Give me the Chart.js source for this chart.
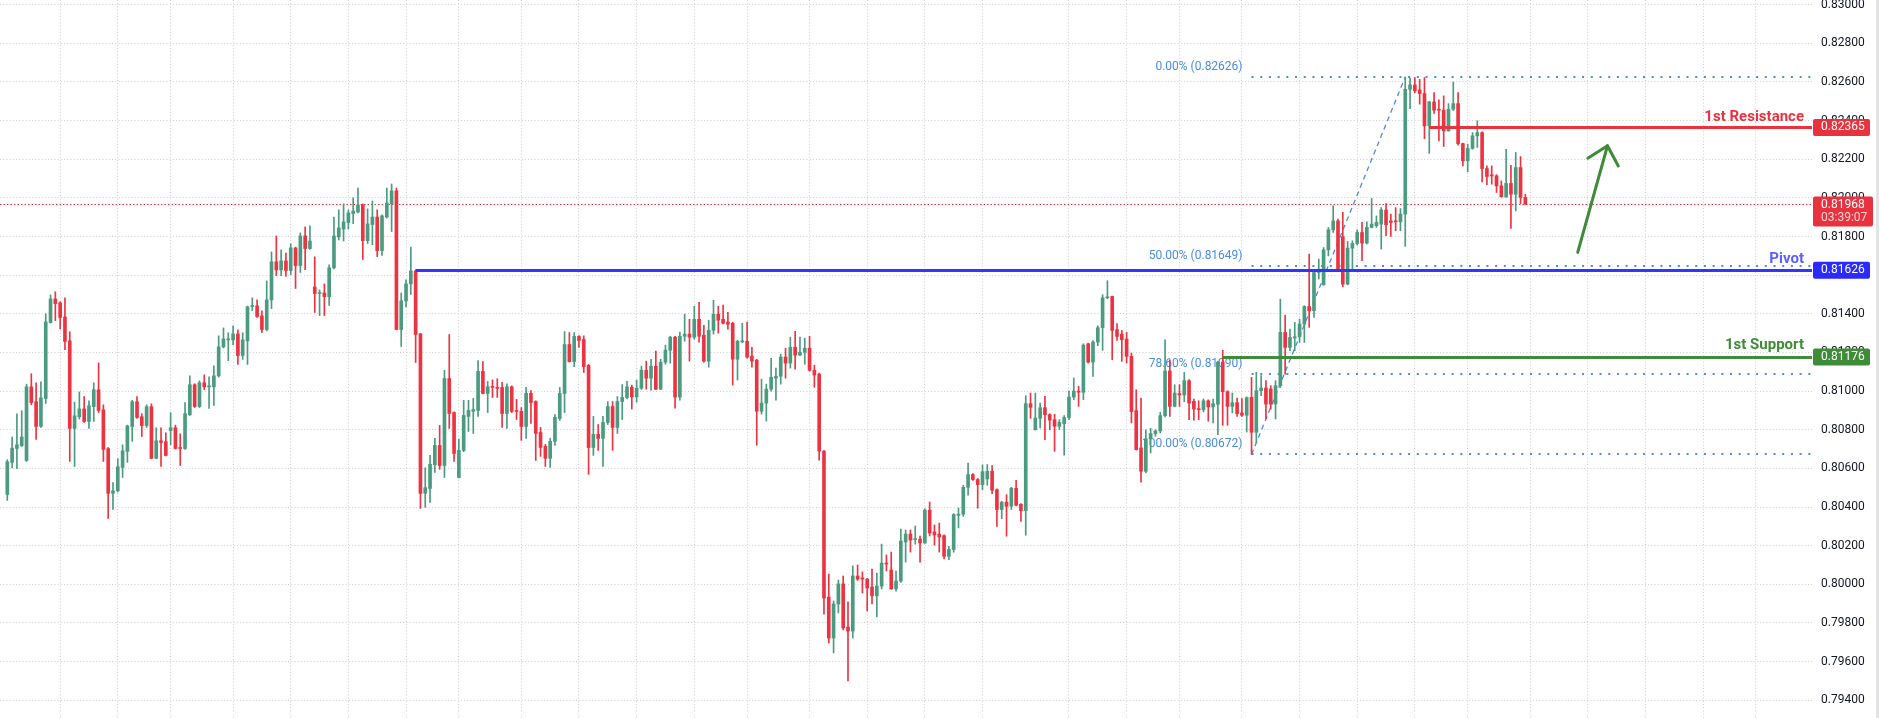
<!DOCTYPE html>
<html lang="en">
  <head>
    <meta charset="utf-8" />
    <title>Price chart - pivot levels</title>
    <style>
      * {
        margin: 0;
        padding: 0;
      }
      body {
        background: #ffffff;
      }
      .chartBox {
        width: 1880px;
        height: 718px;
        position: relative;
      }
    </style>
  </head>
  <body>
    <div class="chartBox">
      <canvas id="myChart"></canvas>
    </div>
    <script src="https://cdn.jsdelivr.net/npm/chart.js"></script>
    <script>
      // candles, oldest first
      const open = [
        0.80465,0.80631,0.80703,0.80717,0.80641,0.81022,0.80945,0.80817,0.80962,0.81355,
        0.81477,0.81457,0.81384,0.81260,0.80807,0.80867,0.80908,0.80843,0.80920,0.81007,
        0.80903,0.80702,0.80471,0.80484,0.80605,0.80688,0.80817,0.80945,0.80867,0.80822,
        0.80919,0.80652,0.80743,0.80738,0.80796,0.80810,0.80707,0.80703,0.80877,0.81033,
        0.80920,0.81043,0.81022,0.81022,0.81079,0.81229,0.81265,0.81265,0.81296,0.81184,
        0.81260,0.81438,0.81441,0.81389,0.81319,0.81472,0.81669,0.81627,0.81674,0.81624,
        0.81741,0.81650,0.81803,0.81738,0.81539,0.81505,0.81508,0.81489,0.81638,0.81798,
        0.81839,0.81872,0.81919,0.81927,0.81963,0.81779,0.81862,0.81901,0.81727,0.81901,
        0.81970,0.82036,0.81319,0.81467,0.81555,0.81622,0.81296,0.80471,0.80496,0.80619,
        0.80719,0.80615,0.81065,0.80889,0.80553,0.80693,0.80869,0.80895,0.80900,0.81102,
        0.80988,0.81022,0.81017,0.81019,0.80884,0.81022,0.80900,0.80895,0.80817,0.80988,
        0.80946,0.80786,0.80714,0.80652,0.80740,0.80858,0.80988,0.81241,0.81153,0.81283,
        0.81267,0.81133,0.80708,0.80776,0.80755,0.80838,0.80920,0.80812,0.80946,0.80967,
        0.81020,0.80970,0.81015,0.81108,0.81067,0.81129,0.81010,0.81150,0.81212,0.81279,
        0.80969,0.81284,0.81295,0.81279,0.81372,0.81289,0.81155,0.81315,0.81398,0.81372,
        0.81357,0.81351,0.81165,0.81255,0.81258,0.81181,0.81160,0.80896,0.80938,0.81010,
        0.81067,0.81077,0.81176,0.81145,0.81227,0.81186,0.81201,0.81222,0.81108,0.81088,
        0.80689,0.79934,0.79722,0.79898,0.80002,0.79779,0.79758,0.80043,0.80033,0.80027,
        0.79986,0.79940,0.79991,0.80110,0.80074,0.79976,0.80017,0.80219,0.80260,0.80231,
        0.80234,0.80214,0.80384,0.80271,0.80260,0.80252,0.80145,0.80180,0.80357,0.80363,
        0.80502,0.80568,0.80542,0.80516,0.80545,0.80585,0.80490,0.80387,0.80425,0.80404,
        0.80497,0.80414,0.80381,0.80935,0.80800,0.80859,0.80914,0.80878,0.80852,0.80818,
        0.80832,0.80863,0.80969,0.81000,0.80994,0.81245,0.81150,0.81254,0.81328,0.81483,
        0.81490,0.81318,0.81295,0.81269,0.81180,0.80899,0.80706,0.80585,0.80752,0.80780,
        0.80794,0.80873,0.81104,0.80921,0.80987,0.80980,0.81054,0.80947,0.80909,0.80904,
        0.80950,0.80918,0.80932,0.81150,0.80997,0.80921,0.80940,0.80887,0.80875,0.80968,
        0.80787,0.81002,0.81016,0.81011,0.80933,0.81028,0.81304,0.81226,0.81275,0.81281,
        0.81347,0.81438,0.81416,0.81614,0.81550,0.81731,0.81835,0.81881,0.81799,0.81554,
        0.81740,0.81764,0.81821,0.81766,0.81847,0.81856,0.81864,0.81937,0.81881,0.81880,
        0.81876,0.81916,0.82562,0.82585,0.82559,0.82540,0.82373,0.82497,0.82459,0.82454,
        0.82347,0.82459,0.82488,0.82281,0.82192,0.82256,0.82321,0.82338,0.82152,0.82118,
        0.82114,0.82062,0.82006,0.82075,0.82019,0.82157,0.82002,
      ];
      const high = [
        0.80645,0.80762,0.80883,0.80898,0.81036,0.81090,0.81043,0.81048,0.81400,0.81498,
        0.81514,0.81462,0.81483,0.81307,0.80943,0.80996,0.80971,0.80950,0.81043,0.81146,
        0.80929,0.80708,0.80526,0.80650,0.80722,0.80824,0.80952,0.80971,0.80883,0.80929,
        0.80934,0.80810,0.80810,0.80784,0.80888,0.80824,0.80779,0.80940,0.81079,0.81038,
        0.81053,0.81084,0.81074,0.81131,0.81286,0.81327,0.81302,0.81338,0.81317,0.81302,
        0.81440,0.81483,0.81472,0.81415,0.81570,0.81720,0.81803,0.81731,0.81715,0.81762,
        0.81745,0.81819,0.81850,0.81855,0.81695,0.81524,0.81555,0.81653,0.81901,0.81938,
        0.81969,0.81938,0.82000,0.82051,0.81969,0.81943,0.81984,0.81938,0.81912,0.82051,
        0.82072,0.82051,0.81508,0.81576,0.81746,0.81627,0.81298,0.80603,0.80667,0.80755,
        0.80822,0.81107,0.81293,0.80893,0.80750,0.80952,0.80952,0.80962,0.81158,0.81153,
        0.81050,0.81058,0.81064,0.81045,0.81038,0.81027,0.80957,0.80915,0.81019,0.81003,
        0.80950,0.80812,0.80724,0.80755,0.80879,0.81019,0.81308,0.81303,0.81303,0.81288,
        0.81286,0.81138,0.80869,0.80827,0.80869,0.80946,0.80946,0.80972,0.81034,0.81050,
        0.81031,0.81057,0.81129,0.81155,0.81165,0.81207,0.81165,0.81238,0.81284,0.81284,
        0.81305,0.81398,0.81372,0.81439,0.81460,0.81341,0.81367,0.81470,0.81439,0.81445,
        0.81408,0.81357,0.81264,0.81351,0.81357,0.81227,0.81165,0.81062,0.81036,0.81170,
        0.81119,0.81191,0.81222,0.81279,0.81310,0.81279,0.81274,0.81284,0.81134,0.81093,
        0.80694,0.80053,0.79914,0.80022,0.80043,0.79909,0.80095,0.80100,0.80064,0.80031,
        0.80079,0.80058,0.80208,0.80152,0.80167,0.80069,0.80286,0.80281,0.80281,0.80302,
        0.80250,0.80390,0.80426,0.80307,0.80317,0.80256,0.80197,0.80366,0.80395,0.80513,
        0.80628,0.80573,0.80548,0.80618,0.80620,0.80614,0.80494,0.80430,0.80464,0.80502,
        0.80538,0.80418,0.80976,0.80990,0.80990,0.80938,0.80973,0.80883,0.80880,0.80852,
        0.80873,0.81000,0.81068,0.81025,0.81245,0.81248,0.81262,0.81338,0.81499,0.81571,
        0.81492,0.81349,0.81314,0.81304,0.81197,0.81007,0.80964,0.80800,0.80807,0.80800,
        0.80890,0.81266,0.81162,0.81033,0.81033,0.81097,0.81059,0.80959,0.80950,0.80959,
        0.80955,0.80959,0.81155,0.81211,0.81002,0.80990,0.80964,0.80961,0.80970,0.81071,
        0.81097,0.81080,0.81054,0.81028,0.81054,0.81476,0.81394,0.81321,0.81356,0.81373,
        0.81442,0.81709,0.81618,0.81683,0.81743,0.81847,0.81959,0.81890,0.81925,0.81775,
        0.81778,0.81835,0.81873,0.81876,0.81997,0.81907,0.81950,0.81971,0.81916,0.81950,
        0.81945,0.82626,0.82620,0.82623,0.82614,0.82623,0.82500,0.82545,0.82507,0.82528,
        0.82488,0.82600,0.82545,0.82284,0.82278,0.82338,0.82399,0.82342,0.82166,0.82166,
        0.82120,0.82088,0.82252,0.82169,0.82235,0.82214,0.82019,
      ];
      const low = [
        0.80434,0.80602,0.80598,0.80714,0.80636,0.80929,0.80750,0.80812,0.80936,0.81352,
        0.81365,0.81322,0.81215,0.80636,0.80610,0.80855,0.80838,0.80807,0.80843,0.80889,
        0.80636,0.80341,0.80388,0.80478,0.80553,0.80631,0.80740,0.80858,0.80765,0.80812,
        0.80650,0.80650,0.80610,0.80665,0.80722,0.80700,0.80615,0.80698,0.80874,0.80915,
        0.80915,0.81007,0.80910,0.80926,0.81072,0.81224,0.81158,0.81240,0.81138,0.81164,
        0.81138,0.81417,0.81381,0.81303,0.81312,0.81427,0.81598,0.81598,0.81593,0.81603,
        0.81531,0.81614,0.81629,0.81733,0.81407,0.81391,0.81391,0.81443,0.81632,0.81782,
        0.81777,0.81839,0.81867,0.81922,0.81681,0.81764,0.81758,0.81696,0.81702,0.81896,
        0.81826,0.81317,0.81231,0.81436,0.81500,0.81148,0.80393,0.80398,0.80424,0.80579,
        0.80595,0.80553,0.80807,0.80636,0.80550,0.80686,0.80791,0.80781,0.80869,0.80986,
        0.80889,0.80967,0.80967,0.80812,0.80807,0.80889,0.80853,0.80745,0.80755,0.80833,
        0.80641,0.80662,0.80610,0.80605,0.80719,0.80848,0.80889,0.81150,0.81127,0.81226,
        0.81096,0.80569,0.80667,0.80693,0.80610,0.80827,0.80693,0.80781,0.80853,0.80960,
        0.80907,0.80943,0.81008,0.81010,0.81005,0.81008,0.81008,0.81139,0.81145,0.80912,
        0.80953,0.81258,0.81155,0.81269,0.81253,0.81150,0.81124,0.81295,0.81300,0.81348,
        0.81320,0.81031,0.81057,0.81250,0.81170,0.81124,0.80720,0.80881,0.80845,0.81000,
        0.80953,0.81036,0.81067,0.81119,0.81114,0.81183,0.81139,0.81103,0.81020,0.80643,
        0.79846,0.79696,0.79645,0.79852,0.79764,0.79500,0.79722,0.80020,0.79955,0.79862,
        0.79898,0.79831,0.79976,0.80069,0.79974,0.79965,0.80010,0.80115,0.80167,0.80208,
        0.80115,0.80212,0.80250,0.80203,0.80167,0.80132,0.80128,0.80166,0.80292,0.80352,
        0.80461,0.80538,0.80394,0.80490,0.80513,0.80469,0.80300,0.80340,0.80249,0.80387,
        0.80406,0.80326,0.80254,0.80859,0.80798,0.80809,0.80749,0.80800,0.80688,0.80800,
        0.80668,0.80852,0.80956,0.80921,0.80956,0.81145,0.81076,0.81235,0.81211,0.81478,
        0.81162,0.81262,0.81154,0.81145,0.80835,0.80695,0.80528,0.80576,0.80680,0.80766,
        0.80783,0.80866,0.80869,0.80918,0.80921,0.80945,0.80852,0.80849,0.80852,0.80892,
        0.80844,0.80835,0.80775,0.80823,0.80823,0.80887,0.80869,0.80869,0.80788,0.80672,
        0.80731,0.80976,0.80856,0.80907,0.80856,0.81019,0.81088,0.81209,0.81209,0.81252,
        0.81252,0.81330,0.81381,0.81580,0.81548,0.81700,0.81821,0.81628,0.81540,0.81550,
        0.81631,0.81756,0.81675,0.81761,0.81845,0.81847,0.81735,0.81804,0.81800,0.81830,
        0.81830,0.81749,0.82462,0.82545,0.82485,0.82307,0.82230,0.82437,0.82295,0.82266,
        0.82345,0.82452,0.82273,0.82166,0.82135,0.82252,0.82261,0.82083,0.82068,0.82071,
        0.82028,0.82004,0.82002,0.81842,0.81933,0.81971,0.81964,
      ];
      const close = [
        0.80634,0.80705,0.80722,0.80762,0.81022,0.80941,0.80817,0.80965,0.81358,0.81477,
        0.81453,0.81381,0.81257,0.80807,0.80872,0.80908,0.80843,0.80924,0.81007,0.80900,
        0.80698,0.80471,0.80484,0.80608,0.80691,0.80820,0.80945,0.80864,0.80822,0.80919,
        0.80652,0.80743,0.80734,0.80667,0.80810,0.80703,0.80703,0.80883,0.81033,0.80920,
        0.81043,0.81022,0.81027,0.81079,0.81229,0.81270,0.81270,0.81296,0.81184,0.81265,
        0.81436,0.81443,0.81386,0.81319,0.81472,0.81669,0.81627,0.81674,0.81624,0.81741,
        0.81650,0.81803,0.81738,0.81777,0.81505,0.81510,0.81489,0.81638,0.81803,0.81845,
        0.81876,0.81922,0.81932,0.81963,0.81779,0.81865,0.81901,0.81727,0.81907,0.81974,
        0.82036,0.81319,0.81467,0.81555,0.81622,0.81293,0.80471,0.80500,0.80621,0.80719,
        0.80615,0.81065,0.80884,0.80677,0.80693,0.80874,0.80900,0.80905,0.81102,0.80988,
        0.81022,0.81019,0.81014,0.80884,0.81022,0.80895,0.80895,0.80817,0.80988,0.80941,
        0.80781,0.80708,0.80652,0.80740,0.80864,0.80988,0.81241,0.81153,0.81283,0.81262,
        0.81127,0.80708,0.80776,0.80755,0.80838,0.80920,0.80812,0.80946,0.80967,0.81022,
        0.80970,0.81015,0.81108,0.81067,0.81129,0.81010,0.81150,0.81212,0.81279,0.80969,
        0.81284,0.81295,0.81279,0.81372,0.81284,0.81155,0.81315,0.81398,0.81367,0.81351,
        0.81346,0.81165,0.81258,0.81258,0.81176,0.81155,0.80896,0.80938,0.81010,0.81072,
        0.81077,0.81176,0.81145,0.81227,0.81186,0.81201,0.81222,0.81108,0.81083,0.80689,
        0.79929,0.79722,0.79898,0.80002,0.79774,0.79758,0.80043,0.80027,0.80027,0.79981,
        0.79940,0.79991,0.80110,0.80105,0.79976,0.80017,0.80224,0.80260,0.80229,0.80234,
        0.80214,0.80384,0.80265,0.80255,0.80245,0.80145,0.80180,0.80361,0.80363,0.80502,
        0.80568,0.80542,0.80516,0.80583,0.80585,0.80487,0.80387,0.80425,0.80404,0.80497,
        0.80409,0.80381,0.80935,0.80916,0.80861,0.80914,0.80878,0.80850,0.80818,0.80838,
        0.80863,0.80969,0.81000,0.80994,0.81238,0.81150,0.81254,0.81328,0.81483,0.81487,
        0.81314,0.81283,0.81266,0.81180,0.80894,0.80697,0.80585,0.80752,0.80780,0.80794,
        0.80873,0.81104,0.80921,0.80990,0.80980,0.81054,0.80938,0.80907,0.80904,0.80950,
        0.80918,0.80935,0.81150,0.80997,0.80921,0.80940,0.80883,0.80875,0.80966,0.80787,
        0.81002,0.81016,0.80933,0.80933,0.81028,0.81304,0.81226,0.81278,0.81281,0.81347,
        0.81438,0.81416,0.81614,0.81631,0.81731,0.81835,0.81881,0.81631,0.81554,0.81740,
        0.81764,0.81821,0.81766,0.81847,0.81864,0.81873,0.81938,0.81861,0.81873,0.81876,
        0.81916,0.82562,0.82585,0.82554,0.82540,0.82373,0.82497,0.82454,0.82454,0.82347,
        0.82459,0.82488,0.82281,0.82192,0.82256,0.82321,0.82338,0.82152,0.82111,0.82114,
        0.82062,0.82006,0.82075,0.82019,0.82157,0.82002,0.81968,
      ];

      // price axis ticks and the time grid (candle index of each vertical grid line)
      const yTicks = [0.794, 0.796, 0.798, 0.8, 0.802, 0.804, 0.806, 0.808, 0.81, 0.812, 0.814, 0.816, 0.818, 0.82, 0.822, 0.824, 0.826, 0.828, 0.83];
      const timeGrid = [11, 23, 34, 47, 59, 71, 83, 94, 107, 119, 131, 143, 154, 167, 179, 191, 203, 221, 233, 244, 257, 269, 281, 293, 304, 317, 329, 341, 353, 364];

      // levels
      const lastPrice = 0.81968;
      const lastTimer = '03:39:07';
      const levelNames = ['1st Resistance', 'Pivot', '1st Support'];
      const levelPrices = [0.82365, 0.81626, 0.81176];
      const levelStart = [296, 85, 253];

      // fibonacci retracement, from the low candle to the high candle
      const fibLow = { idx: 259, price: 0.80672 };
      const fibHigh = { idx: 291, price: 0.82626 };
      const fibNames = ['0.00%', '50.00%', '78.60%', '100.00%'];
      const fibPrices = [0.82626, 0.81649, 0.8109, 0.80672];

      // projected move arrow (candle index, price)
      const arrowFrom = [326.9, 0.81718];
      const arrowTo = [333.1, 0.8227];
      const arrowWings = [
        [329.0, 0.82205],
        [335.35, 0.82165],
      ];

      const UP = '#4a9b7f';
      const DOWN = '#ec3342';
      const colors = close.map((c, i) => (c >= open[i] ? UP : DOWN));
      const bodies = close.map((c, i) => ({ x: i, y: [open[i], c] }));
      const wicks = close.map((c, i) => ({ x: i, y: [low[i], high[i]] }));

      Chart.defaults.font.family = 'Roboto, "Noto Sans", sans-serif';

      const levelColors = {
        '1st Resistance': { line: '#e8333f', text: '#e8333f', tag: '#e8333f' },
        Pivot: { line: '#3434ff', text: '#5e5eff', tag: '#2b2bff' },
        '1st Support': { line: '#3e8b38', text: '#3e8b38', tag: '#3e8b38' },
      };
      const FIB = '#4a8de3';

      const overlay = {
        id: 'overlay',
        beforeDatasetsDraw(chart) {
          const {
            ctx,
            chartArea: { left, right, top, bottom },
            scales: { x, y },
          } = chart;
          ctx.save();
          ctx.beginPath();
          ctx.rect(left, top, right - left, bottom - top);
          ctx.clip();

          // last price dotted line
          const py = Math.round(y.getPixelForValue(lastPrice)) + 0.5;
          ctx.strokeStyle = '#e8333f';
          ctx.lineWidth = 1;
          ctx.setLineDash([1.5, 2]);
          ctx.beginPath();
          ctx.moveTo(left, py);
          ctx.lineTo(right, py);
          ctx.stroke();

          // fibonacci levels
          const fx = x.getPixelForValue(fibLow.idx);
          ctx.strokeStyle = FIB;
          ctx.lineWidth = 2;
          ctx.setLineDash([2, 6.7]);
          fibPrices.forEach((p) => {
            const yy = Math.round(y.getPixelForValue(p));
            ctx.beginPath();
            ctx.moveTo(fx, yy);
            ctx.lineTo(right, yy);
            ctx.stroke();
          });
          ctx.setLineDash([]);
          ctx.fillStyle = FIB;
          ctx.font = '12px Roboto';
          ctx.textAlign = 'right';
          ctx.textBaseline = 'alphabetic';
          fibNames.forEach((n, i) => {
            const yy = y.getPixelForValue(fibPrices[i]);
            ctx.fillText(n + ' (' + fibPrices[i].toFixed(5) + ')', fx - 9, yy - 7);
          });

          // trend line of the retracement
          ctx.strokeStyle = FIB;
          ctx.lineWidth = 1.3;
          ctx.setLineDash([5, 4]);
          ctx.beginPath();
          ctx.moveTo(x.getPixelForValue(fibLow.idx), y.getPixelForValue(fibLow.price));
          ctx.lineTo(x.getPixelForValue(fibHigh.idx), y.getPixelForValue(fibHigh.price));
          ctx.stroke();
          ctx.restore();
        },
        afterDatasetsDraw(chart) {
          const {
            ctx,
            chartArea: { left, right, top, bottom },
            scales: { x, y },
          } = chart;
          ctx.save();
          ctx.beginPath();
          ctx.rect(left, top, right - left, bottom - top);
          ctx.clip();

          // support / resistance lines
          const textOffset = [7, 8, 9];
          levelNames.forEach((n, i) => {
            const c = levelColors[n];
            const yy = Math.round(y.getPixelForValue(levelPrices[i])) + 0.5;
            ctx.strokeStyle = c.line;
            ctx.lineWidth = 3;
            ctx.beginPath();
            ctx.moveTo(x.getPixelForValue(levelStart[i]), yy);
            ctx.lineTo(right, yy);
            ctx.stroke();
            ctx.fillStyle = c.text;
            ctx.font = 'bold 15px Roboto';
            ctx.textAlign = 'right';
            ctx.textBaseline = 'alphabetic';
            ctx.fillText(n, right - 8, yy - textOffset[i]);
          });

          // arrow
          ctx.strokeStyle = '#3e8b38';
          ctx.lineWidth = 3;
          ctx.lineCap = 'round';
          ctx.lineJoin = 'round';
          const tipX = x.getPixelForValue(arrowTo[0]);
          const tipY = y.getPixelForValue(arrowTo[1]);
          ctx.beginPath();
          ctx.moveTo(x.getPixelForValue(arrowFrom[0]), y.getPixelForValue(arrowFrom[1]));
          ctx.lineTo(tipX, tipY);
          ctx.stroke();
          ctx.beginPath();
          ctx.moveTo(x.getPixelForValue(arrowWings[0][0]), y.getPixelForValue(arrowWings[0][1]));
          ctx.lineTo(tipX, tipY);
          ctx.lineTo(x.getPixelForValue(arrowWings[1][0]), y.getPixelForValue(arrowWings[1][1]));
          ctx.stroke();
          ctx.restore();
        },
        afterDraw(chart) {
          const {
            ctx,
            chartArea: { right },
            scales: { y },
          } = chart;

          function tag(price, color, lines) {
            const yy = y.getPixelForValue(price);
            const h = lines.length > 1 ? 30 : 17;
            const w = lines.length > 1 ? 60 : 57;
            const top = lines.length > 1 ? yy - 7.5 : yy - 8.5;
            ctx.fillStyle = color;
            ctx.beginPath();
            ctx.roundRect(right + 1, top, w, h, 2);
            ctx.fill();
            ctx.font = '12px Roboto';
            ctx.textAlign = 'left';
            ctx.textBaseline = 'middle';
            lines.forEach((t, i) => {
              ctx.fillStyle = i === 0 ? '#ffffff' : 'rgba(255,255,255,0.78)';
              ctx.fillText(t, right + 9, top + 8.5 + i * 13);
            });
          }

          ctx.save();
          levelNames.forEach((n, i) => {
            tag(levelPrices[i], levelColors[n].tag, [levelPrices[i].toFixed(5)]);
          });
          tag(lastPrice, '#e8333f', [lastPrice.toFixed(5), lastTimer]);

          // right border of the price scale
          ctx.fillStyle = '#e3e3e3';
          ctx.fillRect(chart.width - 4, 0, 3, chart.height);
          ctx.restore();
        },
      };

      const config = {
        type: 'bar',
        data: {
          datasets: [
            {
              label: 'wick',
              data: wicks,
              backgroundColor: colors,
              barThickness: 1,
              grouped: false,
              order: 2,
            },
            {
              label: 'body',
              data: bodies,
              backgroundColor: colors,
              barThickness: 3,
              minBarLength: 1,
              grouped: false,
              order: 1,
            },
          ],
        },
        options: {
          responsive: true,
          maintainAspectRatio: false,
          animation: false,
          layout: { padding: 0 },
          plugins: {
            legend: { display: false },
            tooltip: { enabled: false },
          },
          scales: {
            x: {
              type: 'linear',
              min: -1.52,
              max: 375.67,
              offset: false,
              grid: { color: '#cfcfcf', drawTicks: false, offset: false },
              border: { display: false, dash: [1, 2.2] },
              ticks: { display: false },
              afterBuildTicks: (s) => {
                s.ticks = timeGrid.map((v) => ({ value: v }));
              },
              afterFit: (s) => {
                s.height = 0;
                s.paddingLeft = 0;
                s.paddingRight = 0;
              },
            },
            y: {
              position: 'right',
              min: 0.79308,
              max: 0.830243,
              grid: { color: '#cfcfcf', drawTicks: false },
              border: { display: false, dash: [1, 2.2] },
              ticks: {
                padding: 9,
                color: '#131722',
                font: { size: 12 },
                autoSkip: false,
                callback: (v) => Number(v).toFixed(5),
              },
              afterBuildTicks: (s) => {
                s.ticks = yTicks.map((v) => ({ value: v }));
              },
              afterFit: (s) => {
                // labels may hang over the top and bottom edge like the reference
                s.width = 68;
                s.paddingTop = 0;
                s.paddingBottom = 0;
              },
            },
          },
        },
        plugins: [overlay],
      };

      const myChart = new Chart(document.getElementById('myChart'), config);
    </script>
  </body>
</html>
